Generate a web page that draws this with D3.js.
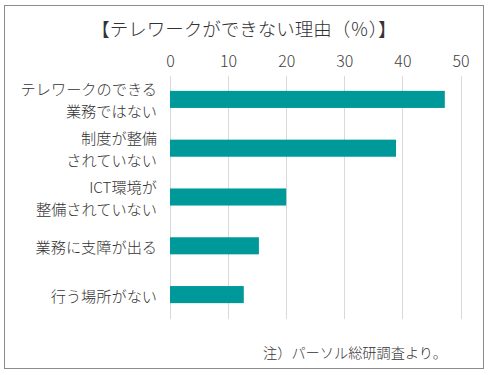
<!DOCTYPE html>
<html><head><meta charset="utf-8">
<script src="https://cdn.jsdelivr.net/npm/d3@7"></script>
<style>body{margin:0;background:#fff}svg{display:block}text{font-family:"Noto Sans CJK JP","Noto Sans",sans-serif;fill:#333}</style>
</head><body><svg id="c" width="490" height="375"></svg>
<script>
const categories = [["テレワークのできる","業務ではない"],["制度が整備","されていない"],["ICT環境が","整備されていない"],["業務に支障が出る"],["行う場所がない"]];
const values = [47.3, 38.9, 20.0, 15.3, 12.7];
const ticks = [0,10,20,30,40,50];
const title = "【テレワークができない理由（％）】";
const note = "注）パーソル総研調査より。";

const svg = d3.select("#c");
svg.append("rect").attr("x",4.5).attr("y",5.5).attr("width",479).attr("height",363)
  .attr("fill","#fff").attr("stroke","#8c8c8c").attr("stroke-width",1);

const x = d3.scaleLinear().domain([0,50]).range([170,460.5]);
const y = d3.scaleBand().domain(d3.range(categories.length)).range([75,319]).paddingInner(0.65).paddingOuter(0.325);

svg.append("text").attr("x",244).attr("y",28).attr("text-anchor","middle").attr("dominant-baseline","central")
  .attr("font-size",18.5).attr("font-weight",300).text(title);

const g = svg.append("g");
g.selectAll("line.grid").data(ticks).join("line").attr("class","grid")
  .attr("x1",d=>Math.round(x(d))+0.5).attr("x2",d=>Math.round(x(d))+0.5).attr("y1",76).attr("y2",319)
  .attr("stroke","#d9d9d9").attr("stroke-width",1);

const ax = svg.append("g").attr("transform","translate(0,68)").call(d3.axisTop(x).tickValues(ticks).tickSize(0).tickPadding(0));
ax.select(".domain").remove();
ax.selectAll("text").attr("font-size",16).attr("dy",null).attr("y",-8).attr("dominant-baseline","central").attr("font-weight",300).style("fill","#404040").style("font-family",'"Noto Sans CJK JP",sans-serif');

g.selectAll("rect.bar").data(values).join("rect").attr("class","bar")
  .attr("x",x(0)).attr("y",(d,i)=>y(i)).attr("width",d=>x(d)-x(0)).attr("height",y.bandwidth())
  .attr("fill","#009999");

const lab = svg.append("g");
categories.forEach((lines,i)=>{
  const cy = y(i)+y.bandwidth()/2;
  const n = lines.length;
  lines.forEach((s,j)=>{
    lab.append("text").attr("x",157).attr("y",cy+(j-(n-1)/2)*22).attr("text-anchor","end")
      .attr("dominant-baseline","central").attr("font-size",15.2).attr("font-weight",300).text(s);
  });
});

svg.append("text").attr("x",263).attr("y",352).attr("dominant-baseline","central").attr("font-size",14.2).attr("font-weight",300).text(note);
</script></body></html>
